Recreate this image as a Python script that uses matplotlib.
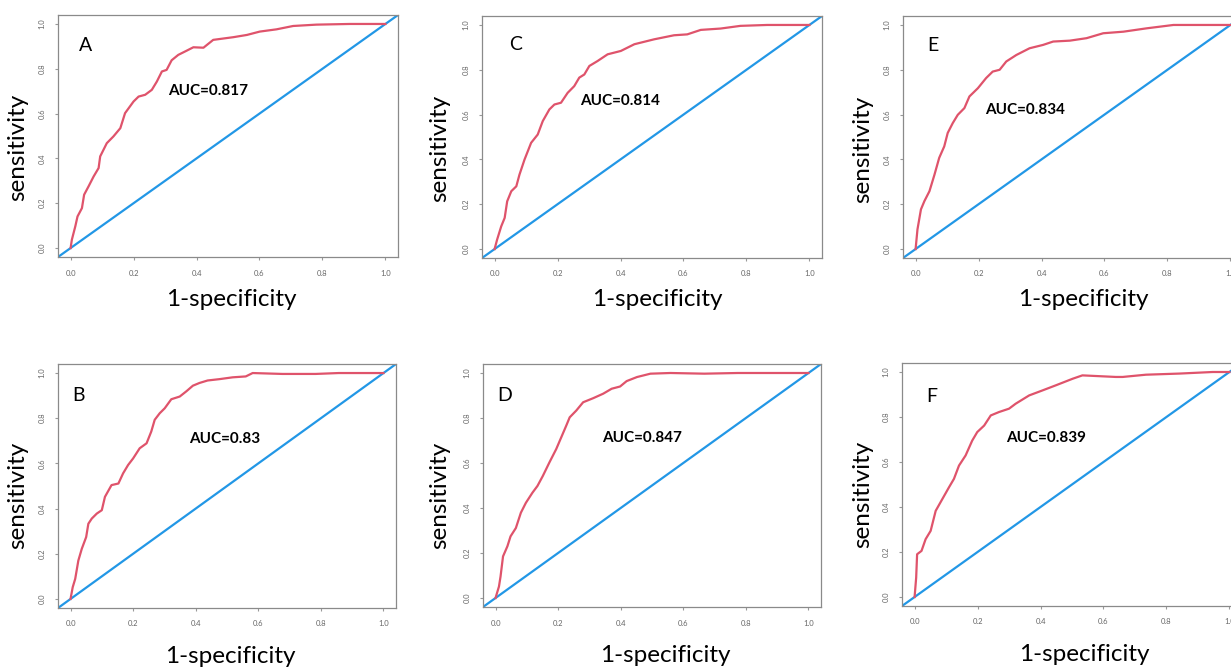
import matplotlib
matplotlib.use('Agg')
import matplotlib.pyplot as plt

plt.rcParams['font.family'] = ['Lato', 'DejaVu Sans']

# ROC curves (1-specificity, sensitivity)
fpr_a = [0, 0.004, 0.015, 0.022, 0.036, 0.043, 0.057, 0.073, 0.089, 0.094, 0.115, 0.136, 0.158, 0.173,
         0.200, 0.216, 0.237, 0.258, 0.274, 0.290, 0.305, 0.321, 0.342, 0.369, 0.390, 0.422, 0.453,
         0.517, 0.560, 0.601, 0.654, 0.707, 0.781, 0.887, 1.0]
tpr_a = [0, 0.037, 0.097, 0.141, 0.178, 0.238, 0.275, 0.319, 0.357, 0.409, 0.468, 0.498, 0.535, 0.602,
         0.654, 0.676, 0.684, 0.706, 0.743, 0.788, 0.795, 0.838, 0.862, 0.881, 0.896, 0.894, 0.929,
         0.941, 0.951, 0.966, 0.976, 0.991, 0.997, 1.0, 1.0]

fpr_b = [0, 0.007, 0.015, 0.025, 0.036, 0.050, 0.057, 0.068, 0.084, 0.100, 0.110, 0.131, 0.153, 0.168,
         0.184, 0.200, 0.221, 0.243, 0.258, 0.269, 0.285, 0.301, 0.322, 0.349, 0.370, 0.391, 0.412,
         0.438, 0.476, 0.518, 0.560, 0.582, 0.677, 0.783, 0.857, 0.942, 1.0]
tpr_b = [0, 0.052, 0.089, 0.170, 0.222, 0.274, 0.333, 0.356, 0.378, 0.393, 0.452, 0.504, 0.511, 0.556,
         0.593, 0.622, 0.667, 0.689, 0.741, 0.793, 0.822, 0.844, 0.884, 0.896, 0.919, 0.944, 0.956,
         0.967, 0.973, 0.981, 0.985, 1.0, 0.996, 0.996, 1.0, 1.0, 1.0]

fpr_c = [0, 0.008, 0.021, 0.032, 0.040, 0.053, 0.069, 0.079, 0.095, 0.116, 0.137, 0.153, 0.174, 0.190,
         0.211, 0.232, 0.253, 0.269, 0.285, 0.301, 0.327, 0.359, 0.401, 0.444, 0.507, 0.570, 0.612,
         0.655, 0.718, 0.781, 0.866, 1.0]
tpr_c = [0, 0.042, 0.101, 0.139, 0.213, 0.258, 0.280, 0.332, 0.399, 0.474, 0.511, 0.571, 0.623, 0.645,
         0.653, 0.697, 0.727, 0.765, 0.779, 0.817, 0.839, 0.869, 0.884, 0.914, 0.936, 0.954, 0.958,
         0.978, 0.984, 0.996, 1.0, 1.0]

fpr_d = [0, 0.011, 0.016, 0.024, 0.038, 0.048, 0.065, 0.081, 0.097, 0.118, 0.134, 0.151, 0.172, 0.194,
         0.210, 0.226, 0.237, 0.258, 0.280, 0.312, 0.344, 0.371, 0.398, 0.419, 0.452, 0.495, 0.559,
         0.667, 0.774, 0.882, 1.0]
tpr_d = [0, 0.051, 0.095, 0.185, 0.230, 0.274, 0.311, 0.379, 0.423, 0.468, 0.498, 0.542, 0.602, 0.662,
         0.714, 0.766, 0.803, 0.833, 0.870, 0.888, 0.908, 0.930, 0.940, 0.964, 0.982, 0.997, 1.0,
         0.997, 1.0, 1.0, 1.0]

fpr_e = [0, 0.006, 0.017, 0.028, 0.044, 0.060, 0.075, 0.091, 0.102, 0.118, 0.134, 0.155, 0.171, 0.198,
         0.224, 0.245, 0.267, 0.288, 0.320, 0.362, 0.405, 0.437, 0.490, 0.543, 0.596, 0.660, 0.734,
         0.819, 1.0]
tpr_e = [0, 0.088, 0.177, 0.214, 0.258, 0.332, 0.407, 0.458, 0.518, 0.562, 0.599, 0.629, 0.681, 0.718,
         0.763, 0.792, 0.800, 0.837, 0.866, 0.896, 0.911, 0.926, 0.930, 0.941, 0.963, 0.970, 0.985,
         1.0, 1.0]

fpr_f = [0, 0.005, 0.008, 0.022, 0.035, 0.051, 0.067, 0.088, 0.109, 0.125, 0.141, 0.162, 0.183, 0.199,
         0.221, 0.242, 0.268, 0.300, 0.321, 0.364, 0.406, 0.449, 0.502, 0.533, 0.639, 0.661, 0.735,
         0.841, 0.947, 1.0]
tpr_f = [0, 0.086, 0.190, 0.205, 0.257, 0.294, 0.383, 0.435, 0.487, 0.525, 0.584, 0.629, 0.695, 0.733,
         0.762, 0.807, 0.822, 0.837, 0.859, 0.896, 0.918, 0.941, 0.970, 0.985, 0.978, 0.978, 0.988,
         0.993, 1.0, 1.0]

panel_letters = ['A', 'B', 'C', 'D', 'E', 'F']
auc_labels = ['AUC=0.817', 'AUC=0.83', 'AUC=0.814', 'AUC=0.847', 'AUC=0.834', 'AUC=0.839']
curves = [(fpr_a, tpr_a), (fpr_b, tpr_b), (fpr_c, tpr_c), (fpr_d, tpr_d), (fpr_e, tpr_e), (fpr_f, tpr_f)]

# axes boxes in pixels: left, top, right, bottom
boxes = [(58, 15, 398, 257), (58, 364, 396, 608), (482, 16, 822, 258),
         (483, 364, 821, 607), (903, 16, 1243, 258), (902, 363, 1242, 606)]
auc_pos = [(0.31, 0.70), (0.38, 0.707), (0.27, 0.66), (0.34, 0.71), (0.22, 0.62), (0.29, 0.705)]
letter_pos = [(0.025, 0.906), (0.005, 0.90), (0.047, 0.915), (0.006, 0.90), (0.038, 0.91), (0.038, 0.89)]
xlabel_pos = [(0.51, -0.175), (0.51, -0.20), (0.515, -0.17), (0.54, -0.20), (0.53, -0.17), (0.535, -0.20)]
ylabel_pos = [(-0.118, 0.455), (-0.118, 0.46), (-0.124, 0.455), (-0.127, 0.46), (-0.118, 0.45), (-0.115, 0.46)]

W, H = 1231, 668
fig = plt.figure(figsize=(W / 100, H / 100), dpi=100)

for i in range(6):
    l, t, r, b = boxes[i]
    ax = fig.add_axes([l / W, 1 - b / H, (r - l) / W, (b - t) / H])
    fx, ty = curves[i]
    ax.axline((0, 0), (1, 1), color='#2297E6', lw=1.6, zorder=2)
    ax.plot(fx, ty, color='#DF536B', lw=1.6, zorder=3)
    ax.set_xlim(-0.04, 1.04)
    ax.set_ylim(-0.04, 1.04)
    ticks = [0.0, 0.2, 0.4, 0.6, 0.8, 1.0]
    ax.set_xticks(ticks)
    ax.set_yticks(ticks)
    ax.set_xticklabels(['%.1f' % v for v in ticks])
    ax.set_yticklabels(['%.1f' % v for v in ticks], rotation=90, va='center')
    ax.tick_params(labelsize=5.5, labelcolor='#666666', color='#999999', length=2, pad=7)
    for s in ax.spines.values():
        s.set_color('#8a8a8a')
        s.set_linewidth(0.9)
    ax.text(*auc_pos[i], auc_labels[i], fontsize=11, fontweight='bold', va='center', ha='left')
    ax.text(*letter_pos[i], panel_letters[i], fontsize=14, va='center', ha='left')
    ax.set_xlabel('1-specificity', fontsize=17.5)
    ax.xaxis.label.set_va('center')
    ax.xaxis.set_label_coords(*xlabel_pos[i])
    ax.set_ylabel('sensitivity', fontsize=17.5)
    ax.yaxis.label.set_va('center')
    ax.yaxis.set_label_coords(*ylabel_pos[i])

fig.savefig('out.png', dpi=100)
